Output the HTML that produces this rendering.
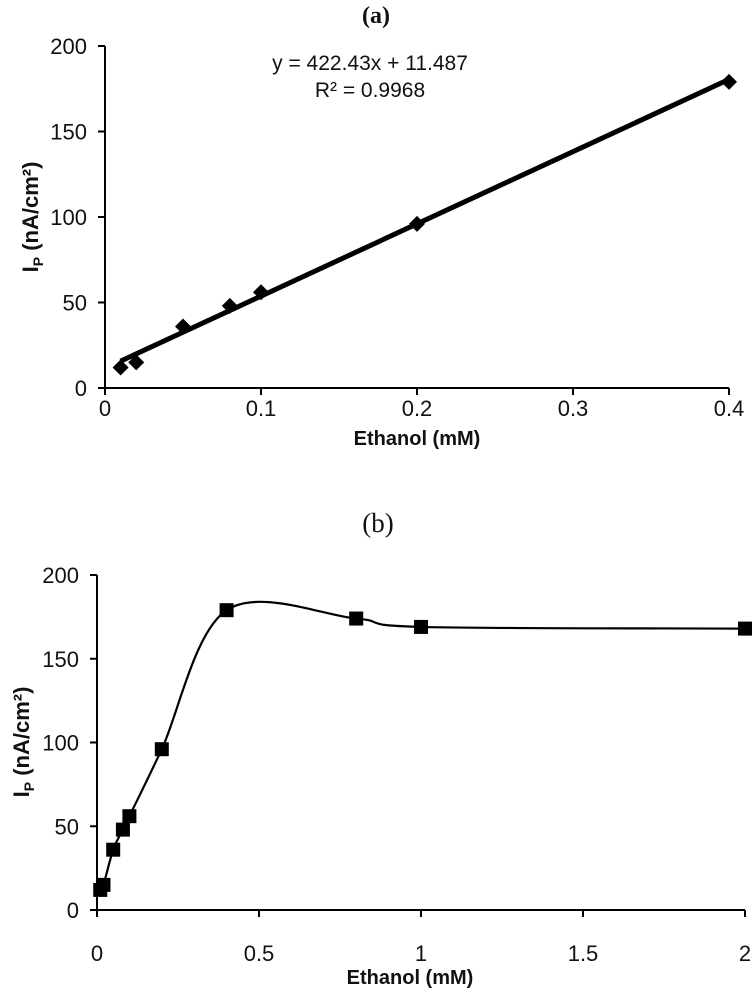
<!DOCTYPE html>
<html><head><meta charset="utf-8"><style>
body{margin:0;background:#fff;width:753px;height:1000px;overflow:hidden}
svg text{font-family:"Liberation Sans",Arial,sans-serif;fill:#111}
</style></head><body>
<svg id="s" width="753" height="1000" xmlns="http://www.w3.org/2000/svg">
<text x="376" y="23" text-anchor="middle" style="font-family:'Liberation Serif',serif;font-weight:bold;font-size:24px">(a)</text>
<text x="378" y="532" text-anchor="middle" style="font-family:'Liberation Serif',serif;font-size:27px">(b)</text>
<text x="370" y="70" text-anchor="middle" font-size="21">y = 422.43x + 11.487</text>
<text x="370" y="97" text-anchor="middle" font-size="21">R² = 0.9968</text>
<text x="417" y="445" text-anchor="middle" font-size="20" font-weight="bold">Ethanol (mM)</text>
<text x="410" y="984" text-anchor="middle" font-size="20" font-weight="bold">Ethanol (mM)</text>
<text transform="translate(38,217) rotate(-90)" text-anchor="middle" font-size="22" font-weight="bold">I<tspan font-size="14" dy="5">P</tspan><tspan dy="-5"> (nA/cm²)</tspan></text>
<text transform="translate(29,742) rotate(-90)" text-anchor="middle" font-size="22" font-weight="bold">I<tspan font-size="14" dy="5">P</tspan><tspan dy="-5"> (nA/cm²)</tspan></text>
</svg>
<script>
const xA=[0.01,0.02,0.05,0.08,0.1,0.2,0.4];
const yA=[12,15,36,48,56,96,179];
const slopeA=422.43, interceptA=11.487;
const xTicksA=[0,0.1,0.2,0.3,0.4];
const xTickLabelsA=["0","0.1","0.2","0.3","0.4"];
const yTicks=[0,50,100,150,200];
const xB=[0.01,0.02,0.05,0.08,0.1,0.2,0.4,0.8,1,2];
const yB=[12,15,36,48,56,96,179,174,169,168];
const xTicksB=[0,0.5,1,1.5,2];
const xTickLabelsB=["0","0.5","1","1.5","2"];
const NS="http://www.w3.org/2000/svg", svg=document.getElementById('s');
function mk(t,a,p){const e=document.createElementNS(NS,t);for(const k in a)e.setAttribute(k,a[k]);(p||svg).appendChild(e);return e;}
function axes(X,Y,x0,x1,xt,xl,tag,off){
  let e=mk('line',{x1:X(x0),y1:Y(0),x2:X(x1),y2:Y(0),stroke:'#000','stroke-width':2});
  
  
  e=mk('line',{x1:X(x0),y1:Y(0),x2:X(x0),y2:Y(200),stroke:'#000','stroke-width':2});
  
  
  xt.forEach((v,i)=>{mk('line',{x1:X(v),y1:Y(0),x2:X(v),y2:Y(0)+7,stroke:'#000','stroke-width':2});
    const t=mk('text',{x:X(v),y:Y(0)+off,'text-anchor':'middle','font-size':22});t.textContent=xl[i];
    
    });
  yTicks.forEach(v=>{mk('line',{x1:X(x0)-7,y1:Y(v),x2:X(x0),y2:Y(v),stroke:'#000','stroke-width':2});
    const t=mk('text',{x:X(x0)-18,y:Y(v)+8,'text-anchor':'end','font-size':22});t.textContent=v;
    
    });
}
// Chart A
const XA=v=>105+v*1560, YA=v=>388-v*1.71;
axes(XA,YA,0,0.4,xTicksA,xTickLabelsA,'a',28);
let l=mk('line',{x1:XA(xA[0]),y1:YA(slopeA*xA[0]+interceptA),x2:XA(xA[xA.length-1]),y2:YA(slopeA*xA[xA.length-1]+interceptA),stroke:'#000','stroke-width':5});


xA.forEach((v,i)=>{const cx=XA(v),cy=YA(yA[i]);
  const p=mk('polygon',{points:`${cx},${cy-8} ${cx+8},${cy} ${cx},${cy+8} ${cx-8},${cy}`,fill:'#000'});
  
  });
// Chart B
const XB=v=>97+v*324, YB=v=>910-v*1.675;
axes(XB,YB,0,2,xTicksB,xTickLabelsB,'b',51);
const P=xB.map((v,i)=>[XB(v),YB(yB[i])]);
let d=`M${P[0][0]},${P[0][1]}`;
for(let i=0;i<P.length-1;i++){const p0=P[i-1]||P[i],p1=P[i],p2=P[i+1],p3=P[i+2]||P[i+1],t=1/6;
  d+=` C${p1[0]+(p2[0]-p0[0])*t},${p1[1]+(p2[1]-p0[1])*t} ${p2[0]-(p3[0]-p1[0])*t},${p2[1]-(p3[1]-p1[1])*t} ${p2[0]},${p2[1]}`;}
l=mk('path',{d:d,fill:'none',stroke:'#000','stroke-width':2.2});


P.forEach(p=>{const r=mk('rect',{x:p[0]-7,y:p[1]-7,width:14,height:14,fill:'#000'});
  
  });
</script>
</body></html>
